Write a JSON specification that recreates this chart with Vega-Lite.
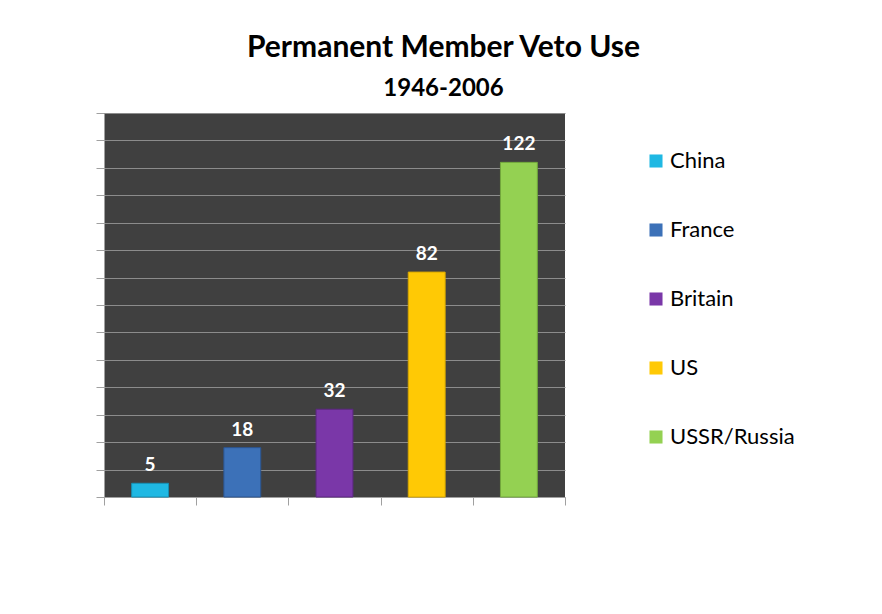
{
  "$schema": "https://vega.github.io/schema/vega-lite/v6.json",
  "autosize": {"type": "none"},
  "width": 461,
  "height": 384,
  "padding": {"left": 104, "top": 113, "right": 317, "bottom": 117},
  "background": "white",
  "title": {
    "text": "Permanent Member Veto Use",
    "subtitle": "1946-2006",
    "font": "Lato",
    "fontSize": 30,
    "fontWeight": "bold",
    "color": "#000000",
    "subtitleFont": "Lato",
    "subtitleFontSize": 24,
    "subtitleFontWeight": "bold",
    "subtitleColor": "#000000",
    "subtitlePadding": 14,
    "anchor": "middle",
    "frame": "group",
    "dx": 109,
    "offset": 12
  },
  "data": {
    "values": [
      {"country": "China", "vetoes": 5},
      {"country": "France", "vetoes": 18},
      {"country": "Britain", "vetoes": 32},
      {"country": "US", "vetoes": 82},
      {"country": "USSR/Russia", "vetoes": 122}
    ]
  },
  "encoding": {
    "x": {
      "field": "country",
      "type": "nominal",
      "sort": ["China", "France", "Britain", "US", "USSR/Russia"],
      "scale": {"paddingInner": 0, "paddingOuter": 0},
      "axis": {
        "labels": false,
        "title": null,
        "tickBand": "extent",
        "tickSize": 8,
        "tickColor": "#a0a0a0",
        "domainColor": "#a0a0a0",
        "grid": false
      }
    },
    "y": {
      "field": "vetoes",
      "type": "quantitative",
      "scale": {"domain": [0, 140], "nice": false},
      "axis": {
        "values": [0, 10, 20, 30, 40, 50, 60, 70, 80, 90, 100, 110, 120, 130, 140],
        "labels": false,
        "title": null,
        "tickSize": 8,
        "tickColor": "#a0a0a0",
        "domainColor": "#a0a0a0",
        "grid": true,
        "gridColor": "#8c8c8c",
        "gridWidth": 1
      }
    }
  },
  "layer": [
    {
      "mark": {"type": "bar", "strokeWidth": 1, "width": {"band": 0.4}},
      "encoding": {
        "color": {
          "field": "country",
          "type": "nominal",
          "sort": ["China", "France", "Britain", "US", "USSR/Russia"],
          "scale": {
            "domain": ["China", "France", "Britain", "US", "USSR/Russia"],
            "range": ["#1FB8E3", "#3C71B8", "#7A37A8", "#FFC905", "#94D152"]
          },
          "legend": {
            "title": null,
            "orient": "none",
            "legendX": 541,
            "legendY": 37,
            "symbolType": "square",
            "symbolSize": 170,
            "symbolStrokeWidth": 0,
            "labelFont": "Lato",
            "labelFontSize": 22,
            "labelColor": "#000000",
            "labelOffset": 3,
            "rowPadding": 47,
            "labelLimit": 300
          }
        },
        "stroke": {
          "field": "country",
          "type": "nominal",
          "scale": {
            "domain": ["China", "France", "Britain", "US", "USSR/Russia"],
            "range": ["#1590B5", "#2B5590", "#5C2782", "#D9A800", "#72A83C"]
          },
          "legend": null
        }
      }
    },
    {
      "mark": {
        "type": "text",
        "baseline": "bottom",
        "dy": -8,
        "font": "Lato",
        "fontSize": 19,
        "fontWeight": "bold",
        "color": "#ffffff"
      },
      "encoding": {
        "text": {"field": "vetoes", "type": "quantitative"}
      }
    }
  ],
  "config": {
    "view": {"fill": "#404040", "stroke": null}
  }
}
